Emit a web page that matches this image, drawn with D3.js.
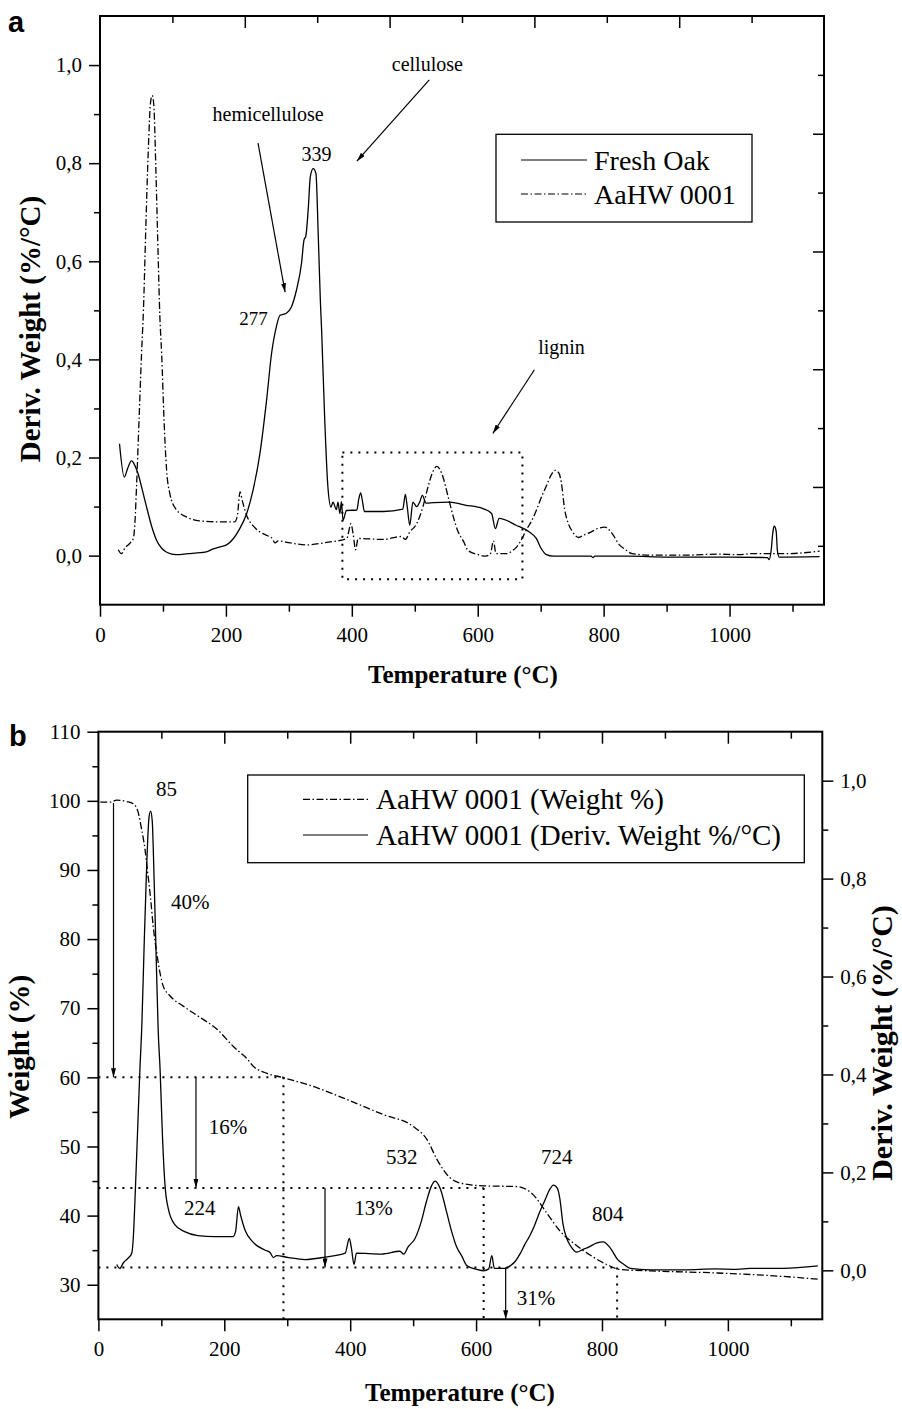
<!DOCTYPE html>
<html>
<head>
<meta charset="utf-8">
<script src="https://cdn.jsdelivr.net/npm/d3@7"></script>
<style>
  body { margin: 0; background: #fff; }
  svg { display: block; font-family: "Liberation Serif", "Times New Roman", serif; }
</style>
</head>
<body>
<div id="chart"></div>
<script>
// ---- data ----
// Fresh oak, derivative weight (%/°C) vs temperature (°C)
var oakTemp = [31, 38.6, 44, 50, 56, 61, 67, 74, 82, 90, 98, 106, 121, 140, 160, 170, 180, 191, 201, 212, 222, 233, 243, 254, 264.6, 272.5, 280, 286, 296, 304, 312, 320, 324, 327, 331, 334, 338.6, 343, 346.6, 350, 352, 357, 362, 367, 370, 375.5, 378, 381, 383.5, 386, 391.5, 408, 411, 414, 417, 420, 450, 481, 485, 488, 492, 497, 503, 508, 512, 518, 530, 555, 580, 608, 622, 628, 634, 661, 682, 693, 701, 709, 720, 780, 783, 786, 841, 900, 1000, 1060, 1063, 1066, 1069, 1071, 1074, 1076, 1079, 1143];
var oakDeriv = [0.228, 0.16, 0.178, 0.193, 0.182, 0.165, 0.135, 0.099, 0.06, 0.031, 0.015, 0.007, 0.002, 0.004, 0.006, 0.008, 0.014, 0.018, 0.022, 0.035, 0.055, 0.086, 0.133, 0.208, 0.317, 0.412, 0.466, 0.49, 0.494, 0.507, 0.541, 0.595, 0.643, 0.652, 0.711, 0.772, 0.789, 0.779, 0.656, 0.52, 0.46, 0.276, 0.14, 0.099, 0.109, 0.094, 0.109, 0.086, 0.11, 0.072, 0.092, 0.093, 0.115, 0.128, 0.11, 0.09, 0.09, 0.095, 0.125, 0.1, 0.062, 0.109, 0.1, 0.11, 0.123, 0.107, 0.108, 0.109, 0.103, 0.096, 0.086, 0.055, 0.076, 0.062, 0.048, 0.035, 0.014, 0.002, -0.001, -0.001, -0.004, -0.001, -0.001, -0.003, -0.003, -0.004, -0.008, 0.01, 0.05, 0.06, 0.05, 0.01, -0.003, -0.002];

// AaHW 0001, derivative weight (%/°C) vs temperature (°C) — used in both panels
var aahwTemp = [29, 34, 40, 48, 53, 55.6, 58, 62, 66, 69, 72.5, 76.7, 80.4, 83, 85.5, 88.9, 92.6, 95, 98, 101.6, 105.8, 111, 121, 137, 158, 185, 214, 218, 222.5, 226, 233, 246, 265, 273, 278, 283, 302, 328, 360, 392, 398.6, 402, 406, 410, 450, 479, 485, 492, 503, 513, 521, 529, 535, 543, 553, 561, 569, 577, 585, 601, 612, 620, 625, 629, 646, 655, 662, 670, 677, 686, 693, 702, 710, 716, 723, 729, 733, 738, 744, 750, 760, 770, 778, 792, 802, 813, 825, 835, 845, 876, 930, 980, 1014, 1035, 1088, 1143];
var aahwDeriv = [0.012, 0.004, 0.016, 0.026, 0.035, 0.07, 0.14, 0.276, 0.412, 0.5, 0.656, 0.826, 0.925, 0.938, 0.918, 0.78, 0.6, 0.49, 0.41, 0.28, 0.174, 0.126, 0.094, 0.079, 0.071, 0.069, 0.069, 0.08, 0.13, 0.112, 0.082, 0.057, 0.041, 0.036, 0.026, 0.03, 0.026, 0.022, 0.027, 0.035, 0.065, 0.045, 0.012, 0.035, 0.033, 0.039, 0.033, 0.048, 0.065, 0.1, 0.14, 0.172, 0.182, 0.167, 0.12, 0.08, 0.048, 0.03, 0.01, 0.002, -0.001, 0.003, 0.03, 0.004, 0.004, 0.01, 0.018, 0.034, 0.052, 0.072, 0.092, 0.122, 0.145, 0.163, 0.174, 0.168, 0.147, 0.095, 0.065, 0.05, 0.037, 0.043, 0.047, 0.056, 0.058, 0.046, 0.022, 0.012, 0.004, 0.001, 0.001, 0.003, 0.002, 0.004, 0.004, 0.009];

// AaHW 0001, weight (%) vs temperature (°C)
var weightTemp = [3, 20, 29, 45, 55, 63, 68.6, 74, 78.2, 83, 87, 92.5, 97.7, 103, 113.6, 134.8, 161, 188, 214, 225, 235, 246, 267, 294, 347, 400, 453, 500, 522, 538, 556, 575, 612, 665, 691, 712, 734, 755, 781, 808, 829, 877, 983, 1088, 1144];
var weightPct = [99.8, 99.8, 100.1, 99.9, 99.6, 98.4, 95.9, 93, 89.7, 85.8, 81.9, 78.1, 75.2, 73.2, 71.8, 70.3, 68.7, 67, 64.5, 63.6, 62.8, 61.6, 60.6, 59.95, 58.5, 56.6, 54.6, 52.9, 51, 48.1, 45.7, 44.7, 44.3, 44.2, 43, 40.4, 37.7, 36, 34.3, 32.9, 32.2, 32, 31.7, 31.2, 30.8];

// axes
var tempDomain = [0, 1150];
var tempMajor = [0, 200, 400, 600, 800, 1000];
var tempMinor = [100, 300, 500, 700, 900, 1100];
var derivDomain = [-0.1, 1.1];
var derivMajor = [0, 0.2, 0.4, 0.6, 0.8, 1.0];
var derivMinor = [0.1, 0.3, 0.5, 0.7, 0.9];
var weightDomain = [25, 110];
var weightMajor = [30, 40, 50, 60, 70, 80, 90, 100, 110];
var weightMinor = [35, 45, 55, 65, 75, 85, 95, 105];

// panel a annotations (temperature, deriv. weight)
var labelsA = [
  { text: "hemicellulose", t: 267, v: 0.901, size: 20 },
  { text: "339", t: 344, v: 0.818, size: 20 },
  { text: "277", t: 244, v: 0.484, size: 19 },
  { text: "cellulose", t: 520, v: 1.003, size: 20 },
  { text: "lignin", t: 733, v: 0.425, size: 20 }
];
var arrowsA = [
  { t1: 251, v1: 0.841, t2: 294, v2: 0.537 },
  { t1: 523, v1: 0.97, t2: 408, v2: 0.804 },
  { t1: 690, v1: 0.379, t2: 624, v2: 0.249 }
];
var ligninBox = { t1: 385, t2: 671, v1: -0.048, v2: 0.21 };

// panel b annotations (temperature, weight %)
var labelsB = [
  { text: "85", t: 108, w: 101.8 },
  { text: "40%", t: 146, w: 85.4 },
  { text: "16%", t: 206, w: 52.8 },
  { text: "224", t: 161, w: 41.2 },
  { text: "13%", t: 437, w: 41.2 },
  { text: "532", t: 482, w: 48.5 },
  { text: "724", t: 728, w: 48.5 },
  { text: "804", t: 809, w: 40.3 },
  { text: "31%", t: 695, w: 28.2 }
];
var levelLines = [
  { w: 60, t: 294 },
  { w: 44, t: 612 },
  { w: 32.5, t: 824 }
];
var stepArrows = [
  { t: 24, from: 99.7, to: 60 },
  { t: 155, from: 60, to: 44 },
  { t: 360, from: 44, to: 32.5 },
  { t: 647, from: 32.5, to: 25 }
];

// ---- drawing ----
var dashDot = "7,2.5,1.5,2.5";
var dotted = "2,6";
var fmtComma = function(d) { return d3.format(".1f")(d).replace(".", ","); };

var svg = d3.select("#chart").append("svg")
  .attr("width", 902)
  .attr("height", 1409);

svg.append("defs").append("marker")
  .attr("id", "arrowhead")
  .attr("viewBox", "0 0 10 10")
  .attr("refX", 10).attr("refY", 5)
  .attr("markerWidth", 9).attr("markerHeight", 5)
  .attr("markerUnits", "userSpaceOnUse")
  .attr("preserveAspectRatio", "none")
  .attr("orient", "auto")
  .append("path")
    .attr("d", "M0,0L10,5L0,10z")
    .attr("fill", "#000");

function styleAxis(sel, size) {
  sel.attr("font-family", null).attr("font-size", null);
  sel.select(".domain").remove();
  sel.selectAll(".tick line").attr("stroke", "#000").attr("stroke-width", 1.5);
  sel.selectAll(".tick text").attr("fill", "#000").style("font-size", size + "px");
}

function addAxis(g, axis, tx, ty) {
  g.append("g")
    .attr("transform", "translate(" + tx + "," + ty + ")")
    .call(axis)
    .call(styleAxis, 21);
}

function frame(g, xs, ys) {
  var x0 = xs.range()[0], x1 = xs.range()[1], y0 = ys.range()[1], y1 = ys.range()[0];
  g.append("rect")
    .attr("x", x0).attr("y", y0)
    .attr("width", x1 - x0).attr("height", y1 - y0)
    .attr("fill", "none")
    .attr("stroke", "#000")
    .attr("stroke-width", 2);
}

function drawLegend(g, x, y, w, h, rows, lineX1, lineX2, textX, size) {
  g.append("rect")
    .attr("x", x).attr("y", y).attr("width", w).attr("height", h)
    .attr("fill", "#fff").attr("stroke", "#000").attr("stroke-width", 1.3);
  rows.forEach(function(r) {
    g.append("line")
      .attr("x1", lineX1).attr("x2", lineX2).attr("y1", r.y).attr("y2", r.y)
      .attr("stroke", "#000").attr("stroke-width", 1.2)
      .attr("stroke-dasharray", r.dash);
    g.append("text")
      .attr("x", textX).attr("y", r.y + 10)
      .style("font-size", size + "px")
      .text(r.name);
  });
}

////////////////* PANEL a *////////////////
var xA = d3.scaleLinear().domain(tempDomain).range([100, 824]);
var yA = d3.scaleLinear().domain(derivDomain).range([604.7, 16]);
// mirror axes on top / right carry their own even spacing
var topA = d3.scaleLinear().domain([0, 10]).range(xA.range());
var rightA = d3.scaleLinear().domain([0, 10]).range(yA.range());

var gA = svg.append("g");

addAxis(gA, d3.axisBottom(xA).tickValues(tempMajor).tickSize(12).tickPadding(10).tickFormat(d3.format("d")), 0, 604.7);
addAxis(gA, d3.axisBottom(xA).tickValues(tempMinor).tickSize(7).tickFormat(""), 0, 604.7);
addAxis(gA, d3.axisLeft(yA).tickValues(derivMajor).tickSize(11).tickPadding(7).tickFormat(fmtComma), 100, 0);
addAxis(gA, d3.axisLeft(yA).tickValues(derivMinor).tickSize(6).tickFormat(""), 100, 0);
addAxis(gA, d3.axisTop(topA).tickValues([2, 4, 6, 8]).tickSize(-12).tickFormat(""), 0, 16);
addAxis(gA, d3.axisTop(topA).tickValues([1, 3, 5, 7, 9]).tickSize(-7).tickFormat(""), 0, 16);
addAxis(gA, d3.axisRight(rightA).tickValues([2, 4, 6, 8]).tickSize(-11).tickFormat(""), 824, 0);
addAxis(gA, d3.axisRight(rightA).tickValues([1, 3, 5, 7, 9]).tickSize(-6).tickFormat(""), 824, 0);
frame(gA, xA, yA);

var lineA = d3.line()
  .x(function(d) { return xA(d[0]); })
  .y(function(d) { return yA(d[1]); })
  .curve(d3.curveMonotoneX);

gA.append("path")
  .datum(d3.zip(oakTemp, oakDeriv))
  .attr("d", lineA)
  .attr("fill", "none").attr("stroke", "#000").attr("stroke-width", 1.3);

gA.append("path")
  .datum(d3.zip(aahwTemp, aahwDeriv))
  .attr("d", lineA)
  .attr("fill", "none").attr("stroke", "#000").attr("stroke-width", 1.3)
  .attr("stroke-dasharray", dashDot);

gA.append("rect")
  .attr("x", xA(ligninBox.t1)).attr("y", yA(ligninBox.v2))
  .attr("width", xA(ligninBox.t2) - xA(ligninBox.t1))
  .attr("height", yA(ligninBox.v1) - yA(ligninBox.v2))
  .attr("fill", "none").attr("stroke", "#000").attr("stroke-width", 2)
  .attr("stroke-dasharray", dotted);

gA.selectAll(".arrowA")
  .data(arrowsA)
  .enter()
  .append("line")
    .attr("class", "arrowA")
    .attr("x1", function(d) { return xA(d.t1); })
    .attr("y1", function(d) { return yA(d.v1); })
    .attr("x2", function(d) { return xA(d.t2); })
    .attr("y2", function(d) { return yA(d.v2); })
    .attr("stroke", "#000").attr("stroke-width", 1.2)
    .attr("marker-end", "url(#arrowhead)");

gA.selectAll(".labelA")
  .data(labelsA)
  .enter()
  .append("text")
    .attr("class", "labelA")
    .attr("x", function(d) { return xA(d.t); })
    .attr("y", function(d) { return yA(d.v); })
    .attr("dy", "0.35em")
    .attr("text-anchor", "middle")
    .style("font-size", function(d) { return d.size + "px"; })
    .text(function(d) { return d.text; });

drawLegend(gA, 496, 134.3, 256, 87.7,
  [{ name: "Fresh Oak", y: 160, dash: null }, { name: "AaHW 0001", y: 194, dash: dashDot }],
  521, 587, 594, 28);

gA.append("text")
  .attr("x", 463).attr("y", 683)
  .attr("text-anchor", "middle")
  .style("font-size", "25px").style("font-weight", 700)
  .text("Temperature (°C)");

gA.append("text")
  .attr("transform", "translate(40,329) rotate(-90)")
  .attr("text-anchor", "middle")
  .style("font-size", "29px").style("font-weight", 700)
  .text("Deriv. Weight (%/°C)");

gA.append("text")
  .attr("x", 8).attr("y", 32)
  .style("font-family", "Liberation Sans, Arial, sans-serif")
  .style("font-size", "29px").style("font-weight", 700)
  .text("a");

////////////////* PANEL b *////////////////
var xB = d3.scaleLinear().domain(tempDomain).range([98.4, 822.3]);
var yBL = d3.scaleLinear().domain(weightDomain).range([1319.3, 731.7]);
var yBR = d3.scaleLinear().domain(derivDomain).range([1319.3, 731.7]);

var gB = svg.append("g");

addAxis(gB, d3.axisBottom(xB).tickValues(tempMajor).tickSize(12).tickPadding(10).tickFormat(d3.format("d")), 0, 1319.3);
addAxis(gB, d3.axisBottom(xB).tickValues(tempMinor).tickSize(7).tickFormat(""), 0, 1319.3);
addAxis(gB, d3.axisTop(xB).tickValues(tempMajor.slice(1)).tickSize(-12).tickFormat(""), 0, 731.7);
addAxis(gB, d3.axisTop(xB).tickValues(tempMinor).tickSize(-7).tickFormat(""), 0, 731.7);
addAxis(gB, d3.axisLeft(yBL).tickValues(weightMajor).tickSize(11).tickPadding(7).tickFormat(d3.format("d")), 98.4, 0);
addAxis(gB, d3.axisLeft(yBL).tickValues(weightMinor).tickSize(6).tickFormat(""), 98.4, 0);
addAxis(gB, d3.axisRight(yBR).tickValues(derivMajor).tickSize(11).tickPadding(7).tickFormat(fmtComma), 822.3, 0);
addAxis(gB, d3.axisRight(yBR).tickValues(derivMinor).tickSize(6).tickFormat(""), 822.3, 0);
frame(gB, xB, yBL);

// dotted level lines
gB.selectAll(".levelH")
  .data(levelLines)
  .enter()
  .append("line")
    .attr("class", "levelH")
    .attr("x1", xB(0)).attr("x2", function(d) { return xB(d.t); })
    .attr("y1", function(d) { return yBL(d.w); })
    .attr("y2", function(d) { return yBL(d.w); })
    .attr("stroke", "#000").attr("stroke-width", 2)
    .attr("stroke-dasharray", dotted);

gB.selectAll(".levelV")
  .data(levelLines)
  .enter()
  .append("line")
    .attr("class", "levelV")
    .attr("x1", function(d) { return xB(d.t); })
    .attr("x2", function(d) { return xB(d.t); })
    .attr("y1", function(d) { return yBL(d.w); })
    .attr("y2", yBL(weightDomain[0]))
    .attr("stroke", "#000").attr("stroke-width", 2)
    .attr("stroke-dasharray", dotted);

var lineW = d3.line()
  .x(function(d) { return xB(d[0]); })
  .y(function(d) { return yBL(d[1]); })
  .curve(d3.curveMonotoneX);
var lineD = d3.line()
  .x(function(d) { return xB(d[0]); })
  .y(function(d) { return yBR(d[1]); })
  .curve(d3.curveMonotoneX);

gB.append("path")
  .datum(d3.zip(weightTemp, weightPct))
  .attr("d", lineW)
  .attr("fill", "none").attr("stroke", "#000").attr("stroke-width", 1.3)
  .attr("stroke-dasharray", dashDot);

gB.append("path")
  .datum(d3.zip(aahwTemp, aahwDeriv))
  .attr("d", lineD)
  .attr("fill", "none").attr("stroke", "#000").attr("stroke-width", 1.3);

gB.selectAll(".stepArrow")
  .data(stepArrows)
  .enter()
  .append("line")
    .attr("class", "stepArrow")
    .attr("x1", function(d) { return xB(d.t); })
    .attr("x2", function(d) { return xB(d.t); })
    .attr("y1", function(d) { return yBL(d.from); })
    .attr("y2", function(d) { return yBL(d.to); })
    .attr("stroke", "#000").attr("stroke-width", 1.2)
    .attr("marker-end", "url(#arrowhead)");

gB.selectAll(".labelB")
  .data(labelsB)
  .enter()
  .append("text")
    .attr("class", "labelB")
    .attr("x", function(d) { return xB(d.t); })
    .attr("y", function(d) { return yBL(d.w); })
    .attr("dy", "0.35em")
    .attr("text-anchor", "middle")
    .style("font-size", "21px")
    .text(function(d) { return d.text; });

drawLegend(gB, 247.7, 775, 556.6, 87.7,
  [{ name: "AaHW 0001 (Weight %)", y: 799.3, dash: dashDot }, { name: "AaHW 0001 (Deriv. Weight %/°C)", y: 835, dash: null }],
  303, 368, 376, 29);

gB.append("text")
  .attr("x", 460).attr("y", 1401)
  .attr("text-anchor", "middle")
  .style("font-size", "25px").style("font-weight", 700)
  .text("Temperature (°C)");

gB.append("text")
  .attr("transform", "translate(29,1047) rotate(-90)")
  .attr("text-anchor", "middle")
  .style("font-size", "29px").style("font-weight", 700)
  .text("Weight (%)");

gB.append("text")
  .attr("transform", "translate(892,1043) rotate(-90)")
  .attr("text-anchor", "middle")
  .style("font-size", "30px").style("font-weight", 700)
  .text("Deriv. Weight (%/°C)");

gB.append("text")
  .attr("x", 9).attr("y", 746)
  .style("font-family", "Liberation Sans, Arial, sans-serif")
  .style("font-size", "29px").style("font-weight", 700)
  .text("b");
</script>
</body>
</html>
